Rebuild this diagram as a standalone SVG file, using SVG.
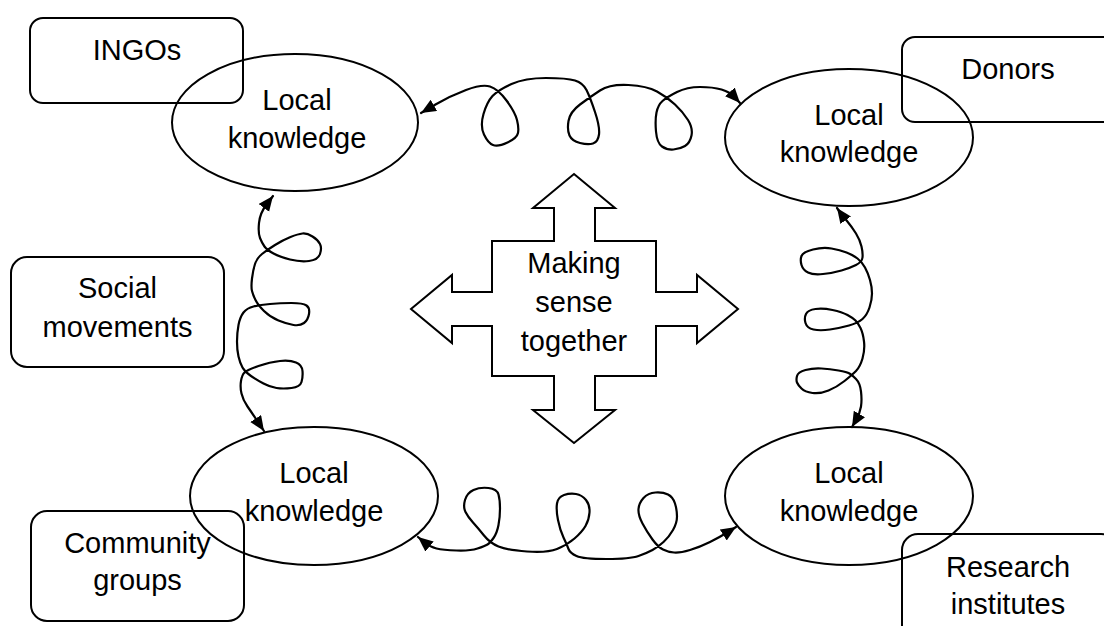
<svg xmlns="http://www.w3.org/2000/svg" width="1104" height="626" viewBox="0 0 1104 626">
<defs>
<marker id="ah" markerUnits="userSpaceOnUse" markerWidth="16" markerHeight="14" refX="15" refY="6.5" orient="auto-start-reverse"><path d="M0,0 L15,6.5 L0,13 Z" fill="#000"/></marker>
<style>
.box{fill:none;stroke:#000;stroke-width:2}
.ell{fill:none;stroke:#000;stroke-width:2}
.con{fill:none;stroke:#000;stroke-width:2.2;stroke-linejoin:round;stroke-linecap:round;marker-start:url(#ah);marker-end:url(#ah)}
text{font-family:"Liberation Sans",Arial,sans-serif;font-size:29px;fill:#000;text-anchor:middle}
</style>
</defs>
<rect width="1104" height="626" fill="#fff"/>
<g id="ingos"><rect class="box" x="30" y="18" width="213" height="85" rx="13"/><text x="137" y="60">INGOs</text></g>
<g id="donors"><rect class="box" x="902" y="37" width="215" height="85" rx="13"/><text x="1008" y="79">Donors</text></g>
<g id="social"><rect class="box" x="11" y="257" width="213" height="110" rx="16"/><text x="117.5" y="298">Social</text><text x="117.5" y="337">movements</text></g>
<g id="community"><rect class="box" x="31" y="511" width="213" height="110" rx="16"/><text x="137.5" y="553">Community</text><text x="137.5" y="590">groups</text></g>
<g id="research"><rect class="box" x="902" y="534" width="215" height="110" rx="16"/><text x="1008" y="577">Research</text><text x="1008" y="614">institutes</text></g>
<g id="lk-tl"><ellipse class="ell" cx="295" cy="122.5" rx="123" ry="68.5"/><text x="297" y="110">Local</text><text x="297" y="148">knowledge</text></g>
<g id="lk-tr"><ellipse class="ell" cx="849" cy="137.5" rx="124" ry="68.5"/><text x="849" y="125">Local</text><text x="849" y="162">knowledge</text></g>
<g id="lk-bl"><ellipse class="ell" cx="314" cy="496" rx="124" ry="69"/><text x="314" y="483">Local</text><text x="314" y="521">knowledge</text></g>
<g id="lk-br"><ellipse class="ell" cx="849" cy="496" rx="124" ry="69"/><text x="849" y="483">Local</text><text x="849" y="521">knowledge</text></g>
<g id="center"><polygon fill="none" stroke="#000" stroke-width="2" points="574,174 615,208 595,208 595,241 656,241 656,292 697,292 697,275 738,309 697,343 697,326 656,326 656,376 595,376 595,410 615,410 574,443 533,410 554,410 554,376 492,376 492,326 452,326 452,343 411,309 452,275 452,292 492,292 492,241 554,241 554,208 533,208"/><text x="574" y="273">Making</text><text x="574" y="312">sense</text><text x="574" y="351">together</text></g>
<g id="connectors">
<path class="con" d="M421,113 L435.5,104.5 Q450,96 466,90 Q482,84 490,86.5 Q498,89 506.5,100.5 Q515,112 517,120 Q519,128 518,133 Q517,138 507.5,142.5 Q498,147 493,145 Q488,143 484,134.5 Q480,126 483.5,114 Q487,102 492.5,96 Q498,90 511.5,84 Q525,78 546,78 Q567,78 575,80.5 Q583,83 586.5,90 Q590,97 595,112 Q600,127 599,134.5 Q598,142 593,143.5 Q588,145 580,143 Q572,141 569.5,135.5 Q567,130 568.5,121 Q570,112 580,104.5 Q590,97 600,90.5 Q610,84 628.5,85 Q647,86 657,91.5 Q667,97 675,104.5 Q683,112 688,120 Q693,128 691.5,135.5 Q690,143 685,146 Q680,149 673.5,149.5 Q667,150 662,146.5 Q657,143 656,131.5 Q655,120 656.5,112.5 Q658,105 662.5,101 Q667,97 677,92 Q687,87 700,87 Q713,87 721.5,89.5 Q730,92 735,97.5 L740,103"/>
<path class="con" d="M273,196 L266.5,204.5 Q260,213 259,223 Q258,233 260,238 Q262,243 264.5,246.5 Q267,250 273.5,253.5 Q280,257 290,259.5 Q300,262 309,261 Q318,260 320,254 Q322,248 320,244 Q318,240 312.5,236.5 Q307,233 302.5,233.5 Q298,234 290.5,237 Q283,240 275,245 Q267,250 262,254 Q257,258 255,264 Q253,270 252,278.5 Q251,287 252,291 Q253,295 255.5,300 Q258,305 264,311 Q270,317 278.5,320.5 Q287,324 293.5,325 Q300,326 304,323 Q308,320 309,314 Q310,308 306.5,305.5 Q303,303 291.5,303 Q280,303 270,304 Q260,305 253.5,306.5 Q247,308 243.5,312.5 Q240,317 238.5,325 Q237,333 237,341.5 Q237,350 238.5,356.5 Q240,363 242.5,367.5 Q245,372 251,376 Q257,380 263.5,383.5 Q270,387 276.5,388 Q283,389 291.5,388 Q300,387 301.5,382 Q303,377 302.5,371 Q302,365 296,362.5 Q290,360 280,361 Q270,362 258.5,366 Q247,370 244.5,372.5 Q242,375 241,381 Q240,387 241.5,393.5 Q243,400 247.5,406.5 Q252,413 256,419 Q260,425 262,428 L264,431"/>
<path class="con" d="M837,208 L839.5,211.5 Q842,215 847,221 Q852,227 856,233.5 Q860,240 861.5,246.5 Q863,253 862.5,257.5 Q862,262 856,265 Q850,268 841.5,270.5 Q833,273 823,274 Q813,275 808,272.5 Q803,270 801.5,265 Q800,260 801.5,256 Q803,252 813,249.5 Q823,247 831.5,248.5 Q840,250 846.5,252.5 Q853,255 857.5,258.5 Q862,262 865,267.5 Q868,273 870,280 Q872,287 872,293.5 Q872,300 869.5,307.5 Q867,315 862.5,319 Q858,323 849,325.5 Q840,328 830,329.5 Q820,331 813.5,329.5 Q807,328 805.5,323 Q804,318 806,314 Q808,310 815.5,309 Q823,308 832.5,310 Q842,312 847.5,315 Q853,318 855.5,320.5 Q858,323 860.5,328 Q863,333 864,341.5 Q865,350 862.5,358.5 Q860,367 856,371 Q852,375 844.5,381 Q837,387 828.5,390.5 Q820,394 812.5,393 Q805,392 801.5,388.5 Q798,385 797,382.5 Q796,380 797,376 Q798,372 805.5,370 Q813,368 821.5,368.5 Q830,369 838.5,370.5 Q847,372 849.5,373.5 Q852,375 856,379 Q860,383 861,391.5 Q862,400 861,406.5 Q860,413 856,420 L852,427"/>
<path class="con" d="M418,537 L424,542 Q430,547 436.5,548.5 Q443,550 456.5,550.5 Q470,551 477.5,548.5 Q485,546 487.5,544.5 Q490,543 493.5,538 Q497,533 498.5,525 Q500,517 500,508.5 Q500,500 498.5,494.5 Q497,489 488.5,488 Q480,487 473.5,490 Q467,493 465,500 Q463,507 465.5,512 Q468,517 473,522.5 Q478,528 484,535.5 Q490,543 498.5,546.5 Q507,550 527,551.5 Q547,553 557,549 Q567,545 574.5,538.5 Q582,532 585.5,526 Q589,520 589.5,512.5 Q590,505 586,500 Q582,495 576,494 Q570,493 564,495 Q558,497 557,503.5 Q556,510 558,520 Q560,530 563.5,537.5 Q567,545 568.5,549 Q570,553 576.5,556 Q583,559 606.5,559 Q630,559 638.5,556 Q647,553 652.5,550 Q658,547 663.5,542 Q669,537 673,530 Q677,523 677,516.5 Q677,510 675,503.5 Q673,497 668,494.5 Q663,492 655.5,492.5 Q648,493 643.5,498 Q639,503 638.5,509 Q638,515 642.5,523.5 Q647,532 652.5,539.5 Q658,547 663,549.5 Q668,552 674,552.5 Q680,553 690,550 Q700,547 710,542 Q720,537 728,532 L736,527"/>
</g>
</svg>
